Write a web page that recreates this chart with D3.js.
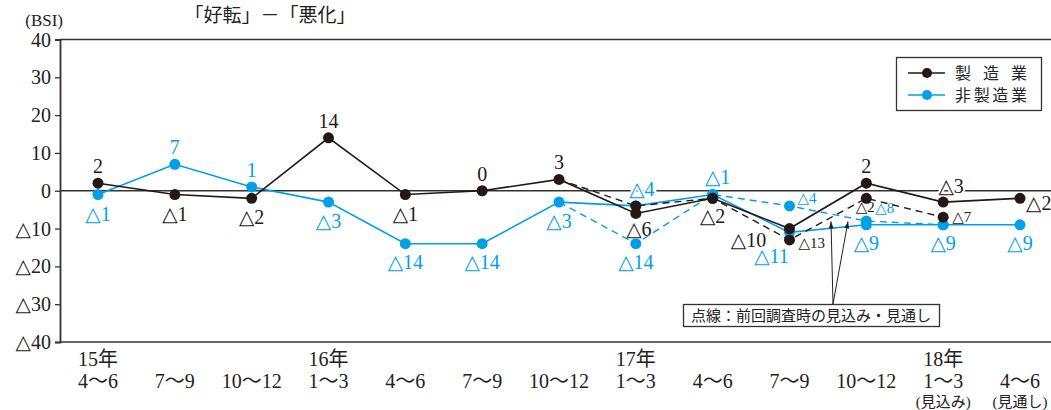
<!DOCTYPE html>
<html>
<head>
<meta charset="utf-8">
<script src="https://cdn.jsdelivr.net/npm/d3@7"></script>
<style>
  html, body { margin: 0; padding: 0; background: #fff; }
  svg { display: block; }
</style>
</head>
<body>
<svg id="chart" width="1051" height="410"></svg>
<script>
// Quarter categories along the x axis
const quarters = ["4～6", "7～9", "10～12", "1～3", "4～6", "7～9", "10～12", "1～3", "4～6", "7～9", "10～12", "1～3", "4～6"];
const years = ["15年", "", "", "16年", "", "", "", "17年", "", "", "", "18年", ""];
const quarterNotes = ["", "", "", "", "", "", "", "", "", "", "", "(見込み)", "(見通し)"];

// BSI actual values (the last two are the current outlook / forecast)
const manufacturing = [2, -1, -2, 14, -1, 0, 3, -6, -2, -10, 2, -3, -2];
const nonManufacturing = [-1, 7, 1, -3, -14, -14, -3, -4, -1, -11, -9, -9, -9];

// Previous survey's outlook (dotted lines)
const manufacturingPrev = [null, null, null, null, null, null, 3, -4, -2, -13, -2, -7, null];
const nonManufacturingPrev = [null, null, null, null, null, null, -3, -14, -1, -4, -8, -9, null];

const yTicks = [40, 30, 20, 10, 0, -10, -20, -30, -40];

// Label placement for each point: [dx, dy] from the dot (baseline), anchor
const mfgLabelPos = [
  [0, -10, "middle"], [0, 26, "middle"], [0, 26, "middle"], [0, -10, "middle"],
  [0, 26, "middle"], [0, -10, "middle"], [0, -10, "middle"], [3, 23, "middle"],
  [0, 25, "middle"], [-41, 18, "middle"], [0, -10, "middle"], [8, -9, "middle"],
  [6, 12, "start"]
];
const nonLabelPos = [
  [0, 26, "middle"], [0, -10, "middle"], [0, -10, "middle"], [0, 26, "middle"],
  [0, 25, "middle"], [0, 25, "middle"], [0, 26, "middle"], [6, -10, "middle"],
  [5, -11, "middle"], [-18, 31, "middle"], [0, 25, "middle"], [0, 25, "middle"],
  [0, 25, "middle"]
];
// Labels for the previous outlook values (index, dx, dy, anchor, size)
const mfgPrevLabelPos = [[9, 9, 8, "start", 15], [10, -1, 14, "middle", 15], [11, 9, 5, "start", 15]];
const nonPrevLabelPos = [[7, 0, 25, "middle", 20], [9, 8, -3, "start", 15], [10, 9, -8, "start", 15]];

const BLACK = "#231815";
const BLUE = "#00a0e9";
const SERIF = "'Liberation Serif', 'DejaVu Serif', 'Noto Sans CJK JP', serif";
const JP = "'Noto Sans CJK JP', sans-serif";
const MIXED = "'Liberation Serif', 'Noto Sans CJK JP', serif";

const fmt = v => v < 0 ? "△" + Math.abs(v) : String(v);

const svg = d3.select("#chart");
const W = 1051;
const plotLeft = 60, plotTop = 39.5, plotBottom = 342;

const x = d3.scalePoint().domain(d3.range(quarters.length)).range([98, 1020]);
const y = d3.scaleLinear().domain([-40, 40]).range([plotBottom, plotTop]);

// Frame lines: top, bottom, zero
svg.append("line").attr("x1", plotLeft).attr("x2", W).attr("y1", y(40)).attr("y2", y(40))
  .attr("stroke", "#333").attr("stroke-width", 1.5);
svg.append("line").attr("x1", plotLeft).attr("x2", W).attr("y1", y(-40)).attr("y2", y(-40))
  .attr("stroke", "#333").attr("stroke-width", 1.5);
svg.append("line").attr("x1", plotLeft).attr("x2", W).attr("y1", y(0)).attr("y2", y(0))
  .attr("stroke", "#333").attr("stroke-width", 1.3);

// Y axis
const yAxis = d3.axisLeft(y).tickValues(yTicks).tickSize(5).tickPadding(4).tickFormat(fmt);
const ya = svg.append("g").attr("transform", `translate(${plotLeft},0)`).call(yAxis);
ya.select(".domain").attr("stroke", "#333").attr("stroke-width", 1.8);
ya.selectAll(".tick line").attr("stroke", "#333").attr("stroke-width", 1.3);
ya.selectAll(".tick text").attr("font-family", SERIF).attr("font-size", 20).attr("fill", "#222")
  .attr("dy", "0.33em");

// Unit and title
svg.append("text").attr("x", 63).attr("y", 26).attr("text-anchor", "end")
  .attr("font-family", SERIF).attr("font-size", 17).attr("fill", "#222").text("(BSI)");
svg.append("text").attr("x", 270).attr("y", 22).attr("text-anchor", "middle")
  .attr("font-family", JP).attr("font-size", 19).attr("fill", "#222").text("「好転」－「悪化」");

// X axis labels
const xl = svg.append("g");
quarters.forEach((q, i) => {
  xl.append("text").attr("x", x(i)).attr("y", 388).attr("text-anchor", "middle")
    .attr("font-family", MIXED).attr("font-size", 20).attr("fill", "#222").text(q);
  if (years[i]) {
    xl.append("text").attr("x", x(i)).attr("y", 366).attr("text-anchor", "middle")
      .attr("font-family", MIXED).attr("font-size", 20).attr("fill", "#222").text(years[i]);
  }
  if (quarterNotes[i]) {
    xl.append("text").attr("x", x(i)).attr("y", 406.5).attr("text-anchor", "middle")
      .attr("font-family", MIXED).attr("font-size", 15).attr("fill", "#222").text(quarterNotes[i]);
  }
});

// Value labels sit under the series; their white halo only breaks the frame lines
const labelLayer = svg.append("g");
const seriesLayer = svg.append("g");

const line = d3.line().defined(d => d != null).x((d, i) => x(i)).y(d => y(d));

function drawSeries(values, prev, color) {
  const g = seriesLayer.append("g");
  g.append("path").datum(prev).attr("d", line).attr("fill", "none")
    .attr("stroke", color).attr("stroke-width", 1.4).attr("stroke-dasharray", "7,5");
  g.append("path").datum(values).attr("d", line).attr("fill", "none")
    .attr("stroke", color).attr("stroke-width", 1.6);
  g.selectAll("circle.actual").data(values).join("circle").attr("class", "actual")
    .attr("cx", (d, i) => x(i)).attr("cy", d => y(d)).attr("r", 5.5).attr("fill", color);
  const firstPrev = prev.findIndex(d => d != null);
  g.selectAll("circle.prev").data(prev.map((d, i) => ({ d, i })).filter(o => o.d != null && o.i > firstPrev))
    .join("circle").attr("class", "prev")
    .attr("cx", o => x(o.i)).attr("cy", o => y(o.d)).attr("r", 5.5).attr("fill", color);
}

drawSeries(nonManufacturing, nonManufacturingPrev, BLUE);
drawSeries(manufacturing, manufacturingPrev, BLACK);

function drawLabels(values, pos, color, size) {
  values.forEach((v, i) => {
    const p = pos[i];
    labelLayer.append("text").attr("x", x(i) + p[0]).attr("y", y(v) + p[1]).attr("text-anchor", p[2])
      .attr("font-family", SERIF).attr("font-size", size).attr("fill", color)
      .attr("stroke", "#fff").attr("stroke-width", 4).attr("paint-order", "stroke")
      .text(fmt(v));
  });
}
drawLabels(manufacturing, mfgLabelPos, BLACK, 20);
drawLabels(nonManufacturing, nonLabelPos, BLUE, 20);

function drawPrevLabels(prev, pos, color) {
  pos.forEach(([i, dx, dy, anchor, size]) => {
    labelLayer.append("text").attr("x", x(i) + dx).attr("y", y(prev[i]) + dy).attr("text-anchor", anchor)
      .attr("font-family", SERIF).attr("font-size", size).attr("fill", color)
      .text(fmt(prev[i]));
  });
}
drawPrevLabels(manufacturingPrev, mfgPrevLabelPos, BLACK);
drawPrevLabels(nonManufacturingPrev, nonPrevLabelPos, BLUE);

// Legend
const lg = svg.append("g");
lg.append("rect").attr("x", 896.5).attr("y", 57.5).attr("width", 145).attr("height", 53)
  .attr("fill", "#fff").attr("stroke", "#333").attr("stroke-width", 1.3);
[[BLACK, "製造業", 73], [BLUE, "非製造業", 95]].forEach(([c, t, ly]) => {
  lg.append("line").attr("x1", 908).attr("x2", 945).attr("y1", ly).attr("y2", ly)
    .attr("stroke", c).attr("stroke-width", 1.6);
  lg.append("circle").attr("cx", 927).attr("cy", ly).attr("r", 5).attr("fill", c);
  lg.append("text").attr("x", 955).attr("y", ly + 6).attr("font-family", JP).attr("font-size", 16)
    .attr("fill", "#222").attr("textLength", 72).attr("lengthAdjust", "spacing").text(t);
});

// Note box with arrows pointing to the dotted lines
svg.append("defs").append("marker").attr("id", "arrow").attr("viewBox", "0 0 10 10")
  .attr("refX", 10).attr("refY", 5).attr("markerWidth", 9).attr("markerHeight", 7)
  .attr("orient", "auto").attr("markerUnits", "userSpaceOnUse")
  .append("path").attr("d", "M0,1.5 L10,5 L0,8.5 Z").attr("fill", "#222");

function prevAt(prev, px) {
  // value of a dotted line at pixel position px
  for (let i = 0; i < prev.length - 1; i++) {
    if (prev[i] != null && prev[i + 1] != null && px >= x(i) && px <= x(i + 1)) {
      const t = (px - x(i)) / (x(i + 1) - x(i));
      return prev[i] + t * (prev[i + 1] - prev[i]);
    }
  }
  return 0;
}
const arrowBase = [833, 304];
[[831, manufacturingPrev], [848, nonManufacturingPrev]].forEach(([ax, prev]) => {
  svg.append("line").attr("x1", arrowBase[0]).attr("y1", arrowBase[1])
    .attr("x2", ax).attr("y2", y(prevAt(prev, ax)) + 4)
    .attr("stroke", "#222").attr("stroke-width", 1).attr("marker-end", "url(#arrow)");
});
svg.append("rect").attr("x", 683.5).attr("y", 304.5).attr("width", 256).attr("height", 22)
  .attr("fill", "#fff").attr("stroke", "#333").attr("stroke-width", 1.3);
svg.append("text").attr("x", 811).attr("y", 321).attr("text-anchor", "middle")
  .attr("font-family", JP).attr("font-size", 15).attr("fill", "#222")
  .text("点線：前回調査時の見込み・見通し");
</script>
</body>
</html>
